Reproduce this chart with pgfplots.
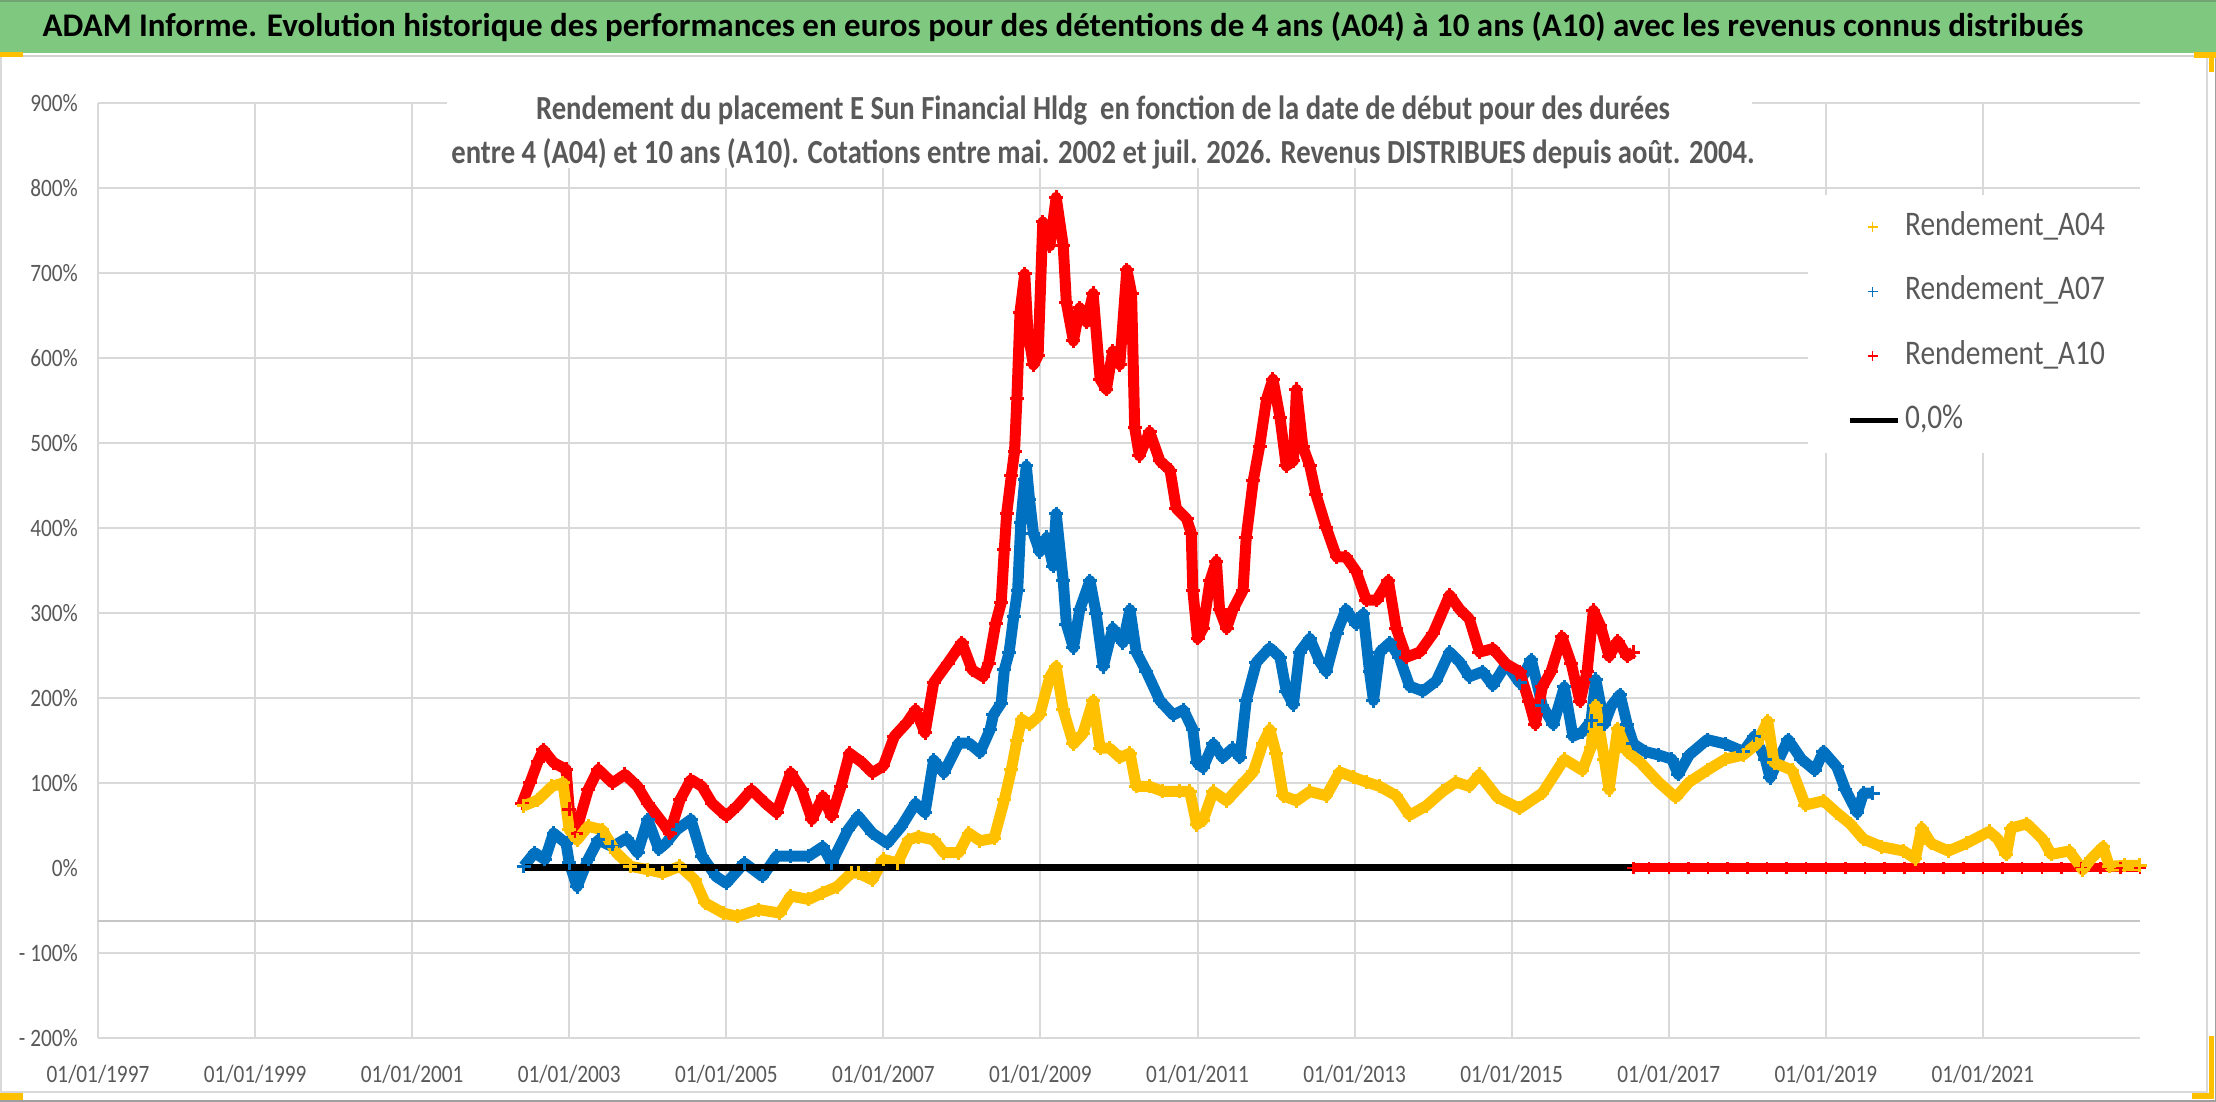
\documentclass[border=0pt]{standalone}
\usepackage{fontspec}
\setmainfont{Carlito}[FakeStretch=0.85]
\newfontfamily\titlefont{Carlito}
\usepackage{pgfplots}
\pgfplotsset{compat=1.18}
\definecolor{textgray}{HTML}{595959}
\definecolor{gridgray}{HTML}{D9D9D9}
\definecolor{cAf}{HTML}{FFC000}
\definecolor{cAs}{HTML}{0070C0}
\definecolor{cAt}{HTML}{FF0000}
\definecolor{titlegreen}{RGB}{126,200,128}
\definecolor{handle}{HTML}{FFC000}
\begin{document}
\begin{tikzpicture}[x=1pt,y=1pt]
\path[use as bounding box] (0,0) rectangle (2216,1102);
\fill[white] (0,0) rectangle (2216,1102);
% title bar
\fill[titlegreen] (0,1049) rectangle (2216,1102);
\draw[green!35!black!55, line width=2pt] (0,1101) -- (2216,1101);
\draw[gray!35, line width=2pt] (0,1046) -- (2216,1046);
\node[anchor=base, font=\titlefont\fontsize{33}{40}\selectfont\bfseries, text=black] at (1063,1065)
 {ADAM Informe. Evolution historique des performances en euros pour des détentions de 4 ans (A04) à 10 ans (A10) avec les revenus connus distribués};
% chart frame
\draw[gray!30, line width=1.5pt] (1,1045) -- (1,10) -- (2207,10) -- (2207,1045);
\draw[gray!75, line width=1.5pt] (0,0.75) -- (2216,0.75);
\draw[gray!75, line width=1.5pt] (2215.25,0) -- (2215.25,1049);
\fill[handle] (0,1045) rectangle (23,1050);
\fill[handle] (2194,1044) rectangle (2216,1050);
\fill[handle] (2209,1030) rectangle (2214,1050);
\fill[handle] (0,2) rectangle (23,9);
\fill[handle] (2192,3) rectangle (2214,9);
\fill[handle] (2209,3) rectangle (2214,66);
\begin{axis}[
  at={(98pt,64pt)}, anchor=south west,
  scale only axis, width=2042pt, height=935pt,
  xmin=1997, xmax=2023, ymin=-200, ymax=900,
  clip=false,
  axis line style={draw=none},
  tick style={draw=none},
  xtick={1997,1999,2001,2003,2005,2007,2009,2011,2013,2015,2017,2019,2021},
  xticklabels={01/01/1997,01/01/1999,01/01/2001,01/01/2003,01/01/2005,01/01/2007,01/01/2009,01/01/2011,01/01/2013,01/01/2015,01/01/2017,01/01/2019,01/01/2021},
  ytick={-200,-100,100,200,300,400,500,600,700,800,900},
  yticklabels={- 200\%,- 100\%,100\%,200\%,300\%,400\%,500\%,600\%,700\%,800\%,900\%},
  extra y ticks={0},
  extra y tick labels={0\%},
  extra y tick style={grid=none},
  grid=major,
  major grid style={draw=gridgray, line width=2pt},
  xticklabel style={font=\fontsize{25}{30}\selectfont, text=textgray, inner sep=0pt, anchor=north, yshift=-27pt},
  yticklabel style={font=\fontsize{25}{30}\selectfont, text=textgray, inner sep=0pt, anchor=east, xshift=-20pt},
  legend cell align=left,
  legend style={
    at={(axis description cs:0.8374,0.9016)}, anchor=north west,
    fill=white, draw=none,
    inner xsep=39pt, inner ysep=16pt,
    font=\fontsize{34.5}{40}\selectfont, text=textgray,
    row sep=32.5pt, column sep=5pt,
    nodes={inner sep=0pt, text height=24pt, text depth=8pt},
  },
]
\addlegendimage{legend image code/.code={\path[draw=none,fill=none] (0pt,-10pt) rectangle (48pt,10pt); \draw[cAf, line width=1.6pt] (18pt,0pt) -- (28pt,0pt) (23pt,-5pt) -- (23pt,5pt);}}
\addlegendentry{Rendement\_A04}
\addlegendimage{legend image code/.code={\path[draw=none,fill=none] (0pt,-10pt) rectangle (48pt,10pt); \draw[cAs, line width=1.6pt] (18pt,0pt) -- (28pt,0pt) (23pt,-5pt) -- (23pt,5pt);}}
\addlegendentry{Rendement\_A07}
\addlegendimage{legend image code/.code={\path[draw=none,fill=none] (0pt,-10pt) rectangle (48pt,10pt); \draw[cAt, line width=1.6pt] (18pt,0pt) -- (28pt,0pt) (23pt,-5pt) -- (23pt,5pt);}}
\addlegendentry{Rendement\_A10}
\addlegendimage{legend image code/.code={\path[draw=none,fill=none] (0pt,-10pt) rectangle (48pt,10pt); \draw[black, line width=5pt] (0pt,0pt) -- (48pt,0pt);}}
\addlegendentry{0,0\%}
% odd separator line
\addplot[forget plot, draw=gray!45, line width=2.5pt] coordinates {(1997,-62.4) (2023,-62.4)};
% A07 (blue)
\addplot[forget plot, color=cAs, line width=11pt, line join=round, mark=+, mark size=7pt, mark options={line width=3pt}] coordinates {
(2002.42,2) (2002.56,18) (2002.69,10) (2002.80,41) (2002.96,29) (2003.00,6) (2003.10,-22) (2003.24,10) (2003.37,33) (2003.55,25) (2003.73,35) (2003.87,18) (2004.00,57) (2004.14,22) (2004.23,29) (2004.37,45) (2004.55,57) (2004.69,14) (2004.87,-10) (2005.00,-18) (2005.23,6) (2005.46,-10) (2005.64,14) (2005.82,14) (2006.05,14) (2006.23,25) (2006.34,6) (2006.55,45) (2006.68,61) (2006.86,41) (2007.05,29) (2007.23,49) (2007.41,76) (2007.53,65) (2007.64,127) (2007.77,112) (2007.96,147) (2008.09,147) (2008.23,136) (2008.36,163) (2008.40,180) (2008.50,194) (2008.54,233) (2008.60,253) (2008.66,296) (2008.71,327) (2008.75,406) (2008.80,457) (2008.82,473) (2008.86,434) (2008.91,394) (2008.99,372) (2009.08,389) (2009.16,355) (2009.20,417) (2009.29,338) (2009.33,287) (2009.42,259) (2009.50,304) (2009.63,338) (2009.71,299) (2009.80,237) (2009.92,282) (2010.05,265) (2010.14,304) (2010.22,254) (2010.35,231) (2010.52,197) (2010.69,180) (2010.82,186) (2010.94,163) (2010.99,124) (2011.07,118) (2011.20,146) (2011.32,130) (2011.45,141) (2011.54,130) (2011.62,197) (2011.75,242) (2011.92,259) (2012.05,248) (2012.13,208) (2012.22,192) (2012.30,254) (2012.43,270) (2012.56,242) (2012.64,231) (2012.77,276) (2012.89,304) (2013.02,287) (2013.11,299) (2013.19,231) (2013.24,197) (2013.32,254) (2013.45,265) (2013.57,248) (2013.70,214) (2013.87,208) (2014.04,220) (2014.21,254) (2014.34,242) (2014.46,225) (2014.63,231) (2014.76,215) (2014.93,240) (2015.10,218) (2015.25,245) (2015.39,191) (2015.53,169) (2015.67,213) (2015.78,155) (2015.90,160) (2016.01,173) (2016.07,222) (2016.18,169) (2016.27,191) (2016.38,204) (2016.47,169) (2016.55,146) (2016.70,137) (2016.87,133) (2017.04,128) (2017.12,110) (2017.26,133) (2017.49,151) (2017.72,146) (2017.95,137) (2018.09,155) (2018.23,128) (2018.29,106) (2018.52,151) (2018.69,128) (2018.86,115) (2018.97,137) (2019.14,119) (2019.25,92) (2019.40,65) (2019.48,88) (2019.60,88)
};
% A10 (red)
\addplot[forget plot, color=cAt, line width=11pt, line join=round, mark=+, mark size=7pt, mark options={line width=3pt}] coordinates {
(2002.40,76) (2002.50,100) (2002.60,125) (2002.67,139) (2002.80,124) (2002.96,116) (2003.00,69) (2003.08,41) (2003.24,92) (2003.37,116) (2003.55,100) (2003.71,110) (2003.87,96) (2004.00,76) (2004.19,53) (2004.28,41) (2004.41,80) (2004.55,104) (2004.69,96) (2004.82,76) (2005.00,61) (2005.14,73) (2005.32,92) (2005.50,76) (2005.64,65) (2005.82,112) (2005.96,92) (2006.09,57) (2006.23,84) (2006.34,61) (2006.46,96) (2006.57,135) (2006.73,124) (2006.86,112) (2007.00,120) (2007.14,155) (2007.30,171) (2007.41,186) (2007.53,159) (2007.64,218) (2007.82,241) (2008.00,265) (2008.13,233) (2008.27,225) (2008.34,241) (2008.43,288) (2008.50,312) (2008.54,375) (2008.57,417) (2008.63,462) (2008.67,490) (2008.70,552) (2008.74,654) (2008.80,699) (2008.84,631) (2008.91,592) (2008.97,603) (2009.03,760) (2009.12,732) (2009.20,789) (2009.29,732) (2009.33,665) (2009.42,620) (2009.50,659) (2009.59,642) (2009.67,676) (2009.76,575) (2009.84,563) (2009.92,608) (2010.01,592) (2010.10,704) (2010.16,676) (2010.20,518) (2010.26,485) (2010.39,513) (2010.52,479) (2010.65,468) (2010.73,423) (2010.86,411) (2010.92,394) (2010.94,327) (2011.00,270) (2011.07,282) (2011.16,338) (2011.24,361) (2011.28,304) (2011.37,282) (2011.45,304) (2011.58,327) (2011.62,389) (2011.71,456) (2011.79,496) (2011.88,552) (2011.96,575) (2012.05,530) (2012.13,473) (2012.22,479) (2012.26,563) (2012.34,496) (2012.43,473) (2012.51,439) (2012.64,400) (2012.77,366) (2012.89,366) (2013.02,349) (2013.15,315) (2013.28,315) (2013.43,338) (2013.53,282) (2013.66,248) (2013.83,254) (2014.00,276) (2014.21,321) (2014.34,304) (2014.46,293) (2014.59,254) (2014.76,258) (2014.93,240) (2015.10,231) (2015.22,196) (2015.30,169) (2015.39,213) (2015.50,231) (2015.64,272) (2015.76,240) (2015.87,196) (2015.96,231) (2016.04,303) (2016.13,285) (2016.24,249) (2016.35,267) (2016.47,249) (2016.55,254)
};
\addplot[forget plot, color=cAt, line width=9pt, mark=+, mark size=6pt, mark options={line width=2.5pt}] coordinates {
(2016.55,0) (2016.75,0) (2017.00,0) (2017.25,0) (2017.50,0) (2017.75,0) (2018.00,0) (2018.25,0) (2018.50,0) (2018.75,0) (2019.00,0) (2019.25,0) (2019.50,0) (2019.75,0) (2020.00,0) (2020.25,0) (2020.50,0) (2020.75,0) (2021.00,0) (2021.25,0) (2021.50,0) (2021.75,0) (2022.00,0) (2022.25,0) (2022.50,0) (2022.75,0) (2023.00,0)
};
% A04 (yellow)
\addplot[forget plot, color=cAf, line width=11pt, line join=round, mark=+, mark size=7pt, mark options={line width=3pt}] coordinates {
(2002.42,73) (2002.60,80) (2002.78,96) (2002.92,100) (2003.00,45) (2003.10,33) (2003.24,49) (2003.42,45) (2003.60,18) (2003.78,2) (2004.00,-2) (2004.19,-6) (2004.41,2) (2004.60,-14) (2004.73,-41) (2004.96,-53) (2005.14,-57) (2005.41,-49) (2005.68,-53) (2005.82,-33) (2006.05,-37) (2006.23,-29) (2006.41,-22) (2006.59,-6) (2006.68,-6) (2006.86,-14) (2007.00,10) (2007.18,6) (2007.32,33) (2007.45,37) (2007.64,33) (2007.77,18) (2007.96,18) (2008.09,41) (2008.23,32) (2008.41,35) (2008.54,80) (2008.63,116) (2008.70,150) (2008.76,175) (2008.86,169) (2008.99,180) (2009.12,225) (2009.20,237) (2009.29,186) (2009.42,146) (2009.54,158) (2009.67,197) (2009.76,141) (2009.88,141) (2010.01,130) (2010.14,135) (2010.22,96) (2010.39,96) (2010.56,90) (2010.77,90) (2010.90,90) (2010.99,51) (2011.07,56) (2011.20,90) (2011.37,79) (2011.54,96) (2011.71,113) (2011.83,146) (2011.92,163) (2012.00,135) (2012.09,85) (2012.26,79) (2012.43,90) (2012.64,85) (2012.81,113) (2012.98,107) (2013.15,101) (2013.32,96) (2013.53,85) (2013.70,62) (2013.91,73) (2014.12,90) (2014.29,101) (2014.46,96) (2014.59,110) (2014.82,83) (2015.10,70) (2015.39,88) (2015.67,128) (2015.90,115) (2016.01,142) (2016.07,191) (2016.18,128) (2016.24,92) (2016.35,164) (2016.47,137) (2016.64,124) (2016.87,101) (2017.09,83) (2017.26,101) (2017.49,115) (2017.72,128) (2017.95,133) (2018.12,146) (2018.26,173) (2018.34,124) (2018.57,115) (2018.74,74) (2018.97,79) (2019.14,65) (2019.31,52) (2019.48,34) (2019.71,25) (2019.99,20) (2020.14,11) (2020.22,47) (2020.34,29) (2020.56,20) (2020.79,29) (2021.08,43) (2021.19,34) (2021.30,16) (2021.36,47) (2021.56,52) (2021.76,34) (2021.87,16) (2022.10,20) (2022.27,-2) (2022.38,11) (2022.53,25) (2022.61,2) (2022.80,3) (2023.00,3)
};
% 0% line
\addplot[forget plot, color=black, line width=7pt] coordinates {(2002.40,0) (2016.55,0)};
\end{axis}
% subtitle box and text
\fill[white] (447,934) rectangle (1752,1042);
\node[anchor=base, font=\fontsize{33.7}{40}\selectfont\bfseries, text=textgray] at (1103,982)
 {Rendement du placement E Sun Financial Hldg \ en fonction de la date de début pour des durées};
\node[anchor=base, font=\fontsize{33.7}{40}\selectfont\bfseries, text=textgray] at (1103,938)
 {entre 4 (A04) et 10 ans (A10). Cotations entre mai. 2002 et juil. 2026. Revenus DISTRIBUES depuis août. 2004.};
\end{tikzpicture}
\end{document}
